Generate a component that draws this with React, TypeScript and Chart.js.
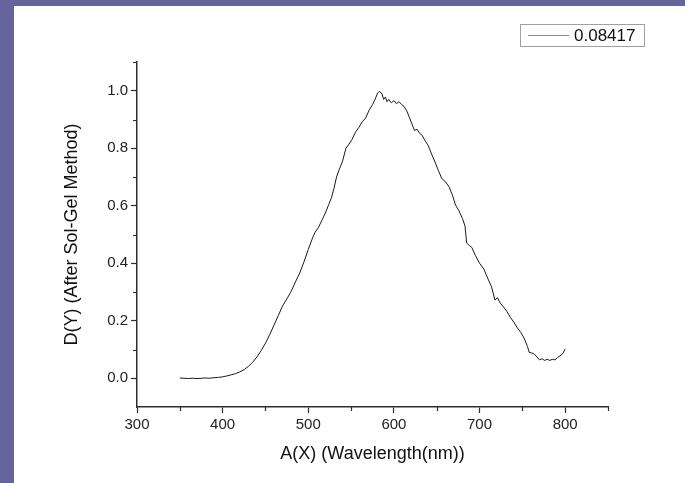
import React, { useEffect, useRef } from 'react';
import { Chart, registerables } from 'chart.js';

Chart.register(...registerables);

const wavelengthNm = [
  350, 355, 360, 365, 370, 375, 380, 385, 390, 395, 400, 405, 410, 415, 420, 425, 430, 435, 440, 445,
  450, 455, 460, 465, 470, 475, 480, 485, 490, 495, 500, 505, 508, 512, 516, 520, 524, 527, 530, 533,
  536, 540, 544, 547, 551, 555, 559, 563, 567, 571, 575, 578, 581, 583, 586, 588, 590, 592, 594, 597,
  600, 603, 606, 609, 612, 615, 618, 621, 624, 627, 630, 633, 636, 640, 644, 648, 652, 656, 660, 664,
  668, 672, 676, 680, 683, 685, 688, 691, 695, 700, 705, 710, 714, 718, 721, 724, 728, 732, 736, 740,
  744, 748, 752, 756, 758, 761, 764, 767, 770, 773, 776, 779, 782, 785, 788, 791, 794, 797, 800,
];

const absorbance = [
  0.001, 0.0, -0.001, 0.0, -0.001, 0.0, 0.001, 0.0, 0.002, 0.003, 0.005, 0.008, 0.012, 0.016, 0.022, 0.03, 0.041, 0.055, 0.074, 0.096,
  0.122, 0.152, 0.185, 0.218, 0.252, 0.276, 0.302, 0.335, 0.366, 0.405, 0.448, 0.488, 0.508, 0.525, 0.55, 0.575, 0.605, 0.628, 0.66, 0.7,
  0.725, 0.755, 0.8, 0.812, 0.83, 0.855, 0.872, 0.892, 0.905, 0.932, 0.952, 0.97, 0.992, 0.998, 0.99, 0.97, 0.978, 0.962, 0.97, 0.958,
  0.966, 0.955, 0.962, 0.952, 0.945, 0.93, 0.908, 0.885, 0.862, 0.866, 0.852, 0.845, 0.828, 0.81, 0.78, 0.752, 0.722, 0.694, 0.684, 0.668,
  0.64, 0.602, 0.582, 0.556, 0.53, 0.47, 0.462, 0.455, 0.428, 0.4, 0.38, 0.345, 0.318, 0.272, 0.28, 0.262, 0.248, 0.232, 0.212, 0.195,
  0.176, 0.16, 0.14, 0.11, 0.09, 0.088, 0.084, 0.074, 0.064, 0.068, 0.062, 0.066, 0.062, 0.066, 0.064, 0.072, 0.078, 0.085, 0.102,
];

const seriesLabel = '0.08417';
const xMajorTicks = [300, 400, 500, 600, 700, 800];
const xMinorTicks = [350, 450, 550, 650, 750, 850];
const yMajorTicks = [0, 0.2, 0.4, 0.6, 0.8, 1.0];
const yMinorTicks = [0.1, 0.3, 0.5, 0.7, 0.9, 1.1];
const xTitle = 'A(X) (Wavelength(nm))';
const yTitle = 'D(Y) (After Sol-Gel Method)';

const FONT = 'Liberation Sans, Arial, sans-serif';
const AXIS_COLOR = '#2e2e2e';

const backgroundPlugin = {
  id: 'frameBackground',
  beforeDraw(chart: any) {
    const ctx = chart.ctx;
    ctx.save();
    ctx.fillStyle = '#65659b';
    ctx.fillRect(0, 0, chart.width, chart.height);
    ctx.fillStyle = '#ffffff';
    ctx.fillRect(14, 6, chart.width - 14, chart.height - 6);
    ctx.restore();
  },
};

const minorTicksPlugin = {
  id: 'minorTicks',
  afterDraw(chart: any) {
    const ctx = chart.ctx;
    const xs = chart.scales.x;
    const ys = chart.scales.y;
    ctx.save();
    ctx.strokeStyle = AXIS_COLOR;
    ctx.lineWidth = 1.2;
    ctx.beginPath();
    xMinorTicks.forEach((v) => {
      const px = Math.round(xs.getPixelForValue(v)) + 0.5;
      ctx.moveTo(px, xs.top);
      ctx.lineTo(px, xs.top + 4);
    });
    yMinorTicks.forEach((v) => {
      const py = Math.round(ys.getPixelForValue(v)) + 0.5;
      ctx.moveTo(ys.right, py);
      ctx.lineTo(ys.right - 4, py);
    });
    ctx.stroke();
    ctx.restore();
  },
};

const legendBoxPlugin = {
  id: 'legendBox',
  afterDraw(chart: any) {
    const ctx = chart.ctx;
    const label = chart.data.datasets[0].label;
    ctx.save();
    ctx.strokeStyle = '#a0a0a0';
    ctx.lineWidth = 1;
    ctx.strokeRect(520.5, 24.5, 124, 22);
    ctx.strokeStyle = '#8c8c8c';
    ctx.beginPath();
    ctx.moveTo(528, 35.5);
    ctx.lineTo(569, 35.5);
    ctx.stroke();
    ctx.fillStyle = '#111111';
    ctx.font = `17px ${FONT}`;
    ctx.textBaseline = 'middle';
    ctx.textAlign = 'left';
    ctx.fillText(label, 574, 36);
    ctx.restore();
  },
};

export default function App() {
  const canvasRef = useRef<HTMLCanvasElement | null>(null);

  useEffect(() => {
    if (!canvasRef.current) return;
    const chart = new Chart(canvasRef.current, {
      type: 'line',
      data: {
        datasets: [
          {
            label: seriesLabel,
            data: wavelengthNm.map((x, i) => ({ x, y: absorbance[i] })),
            borderColor: '#1a1a1a',
            borderWidth: 1,
            pointRadius: 0,
            tension: 0,
            fill: false,
          },
        ],
      },
      options: {
        responsive: false,
        animation: false,
        layout: { padding: { top: 62, right: 77, left: 0, bottom: 0 } },
        plugins: {
          legend: { display: false },
          tooltip: { enabled: false },
        },
        scales: {
          x: {
            type: 'linear',
            min: 300,
            max: 850,
            afterBuildTicks: (s: any) => {
              s.ticks = xMajorTicks.map((v) => ({ value: v }));
            },
            afterFit: (s: any) => {
              s.height = 76;
            },
            ticks: {
              font: { family: FONT, size: 15 },
              color: '#222',
              padding: 3,
              maxRotation: 0,
              callback: (v: any) => String(v),
            },
            grid: {
              display: true,
              drawOnChartArea: false,
              drawTicks: true,
              tickLength: 6,
              tickColor: AXIS_COLOR,
              tickWidth: 1.2,
            },
            border: { display: true, color: AXIS_COLOR, width: 1.5 },
            title: {
              display: true,
              text: xTitle,
              font: { family: FONT, size: 18 },
              color: '#111',
              padding: { top: 0, bottom: 18 },
            },
          },
          y: {
            type: 'linear',
            min: -0.1,
            max: 1.1,
            afterBuildTicks: (s: any) => {
              s.ticks = yMajorTicks.map((v) => ({ value: v }));
            },
            afterFit: (s: any) => {
              s.width = 137;
            },
            ticks: {
              font: { family: FONT, size: 15 },
              color: '#222',
              padding: 3,
              callback: (v: any) => Number(v).toFixed(1),
            },
            grid: {
              display: true,
              drawOnChartArea: false,
              drawTicks: true,
              tickLength: 6,
              tickColor: AXIS_COLOR,
              tickWidth: 1.2,
            },
            border: { display: true, color: AXIS_COLOR, width: 1.5 },
            title: {
              display: true,
              text: yTitle,
              font: { family: FONT, size: 18 },
              color: '#111',
              padding: { top: 61, bottom: 0 },
            },
          },
        },
      },
      plugins: [backgroundPlugin, minorTicksPlugin, legendBoxPlugin],
    } as any);
    return () => chart.destroy();
  }, []);

  return (
    <div style={{ position: 'absolute', left: 0, top: 0, width: 685, height: 483 }}>
      <canvas ref={canvasRef} width={685} height={483} style={{ display: 'block', width: 685, height: 483 }} />
    </div>
  );
}
